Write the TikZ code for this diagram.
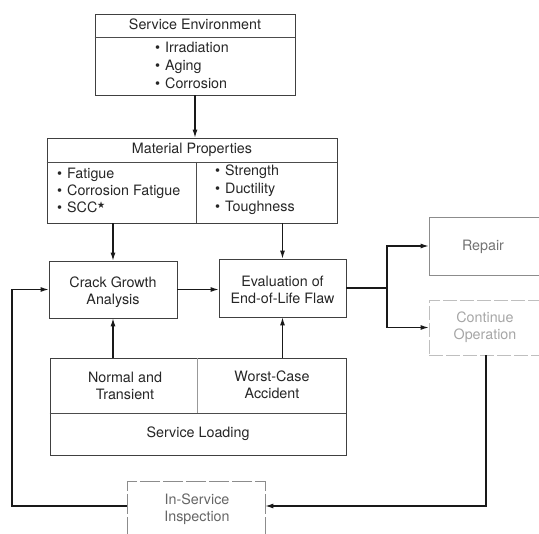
\documentclass[tikz,border=0pt]{standalone}
\usepackage{fontspec}
\setmainfont{TeX Gyre Heros}
\usepackage{amssymb}
\usetikzlibrary{arrows.meta}
\begin{document}
\begin{tikzpicture}[x=1pt,y=-1pt,
  every node/.style={font=\fontsize{14.3}{17.5}\selectfont, text=black!85, inner sep=0pt},
  txt/.style={text height=10pt, text depth=3pt},
  box/.style={draw=black!75, line width=0.7pt},
  faintbox/.style={draw=black!45, line width=0.7pt},
  paleBox/.style={draw=black!25, line width=0.7pt, dash pattern=on 14pt off 3pt},
  divl/.style={draw=black!70, line width=0.6pt},
  conn/.style={draw=black!90, line width=1.2pt},
  arr/.style={conn, -{Latex[length=8pt,width=5pt]}},
  bl/.style={txt, anchor=west}
]
\useasboundingbox (0,0) rectangle (539,534);
\clip (0,0) rectangle (539,534);

% Service environment
\node[box, minimum width=200pt, minimum height=81pt] (senv) at (195,54.5) {};
\draw[divl] (senv.west |- 0,37) -- (senv.east |- 0,37);
\node[txt] (senvT) at (195,26) {Service Environment};
\node[bl] (se1) at (155,49) {\textbullet\hspace{5pt}Irradiation};
\node[bl] (se2) at (155,67) {\textbullet\hspace{5pt}Aging};
\node[bl] (se3) at (155,85) {\textbullet\hspace{5pt}Corrosion};

% Material properties
\node[box, minimum width=290pt, minimum height=85pt] (mat) at (192,180.5) {};
\draw[divl] (mat.west |- 0,162) -- (mat.east |- 0,162);
\draw[divl] (196,162) -- (196,223);
\node[txt] (matT) at (192,150) {Material Properties};
\node[bl] (m1) at (57,175) {\textbullet\hspace{5pt}Fatigue};
\node[bl] (m2) at (57,192) {\textbullet\hspace{5pt}Corrosion Fatigue};
\node[bl] (m3) at (57,209) {\textbullet\hspace{5pt}SCC\raisebox{0.7ex}{\footnotesize$\bigstar$}};
\node[bl] (m4) at (215,172) {\textbullet\hspace{5pt}Strength};
\node[bl] (m5) at (215,190) {\textbullet\hspace{5pt}Ductility};
\node[bl] (m6) at (215,208) {\textbullet\hspace{5pt}Toughness};

% Crack growth / evaluation
\node[box, minimum width=128pt, minimum height=57pt] (crack) at (113,289.5) {};
\node[align=center] (crackT) at (113,292) {Crack Growth\\Analysis};
\node[box, minimum width=127pt, minimum height=58pt] (eval) at (282.5,288) {};
\node[align=center] (evalT) at (282.5,290) {Evaluation of\\End-of-Life Flaw};

% Service loading
\node[box, minimum width=296pt, minimum height=97pt] (load) at (198,406.5) {};
\draw[divl] (load.west |- 0,413) -- (load.east |- 0,413);
\draw[divl, black!40] (197,358) -- (197,413);
\node[align=center] (loadA) at (125,386) {Normal and\\Transient};
\node[align=center] (loadB) at (272,385) {Worst-Case\\Accident};
\node[txt] (loadT) at (198,434) {Service Loading};

% Repair / continue
\node[faintbox, minimum width=131pt, minimum height=58pt] (repair) at (494.5,246) {};
\node[txt, text=black!55] (repairT) at (483,247) {Repair};
\node[paleBox, minimum width=131pt, minimum height=55pt] (cont) at (494.5,327.5) {};
\node[align=center, text=black!35] (contT) at (485,327) {Continue\\Operation};

% In-service inspection
\node[faintbox, dash pattern=on 20pt off 3pt, minimum width=138pt, minimum height=79pt] (insp) at (196,520.5) {};
\node[align=center, text=black!60] (inspT) at (197,509) {In-Service\\Inspection};

% connectors
\draw[arr] (senv.south) -- (senv.south |- mat.north);
\draw[arr] (crack.north |- mat.south) -- (crack.north);
\draw[arr] (eval.north |- mat.south) -- (eval.north);
\draw[arr] (crack.south |- load.north) -- (crack.south);
\draw[arr] (eval.south |- load.north) -- (eval.south);
\draw[arr] (crack.east) -- (crack.east -| eval.west);
\coordinate (split) at (387,288);
\draw[conn] (eval.east) -- (split);
\draw[arr] (split) |- (repair.west);
\draw[arr] (split) |- (cont.west);
\coordinate (rc) at (486,506);
\draw[arr] (cont.south -| rc) -- (rc) -- (rc -| insp.east);
\coordinate (lc) at (12,506);
\draw[arr] (rc -| insp.west) -- (lc) |- (crack.west);
\end{tikzpicture}
\end{document}
